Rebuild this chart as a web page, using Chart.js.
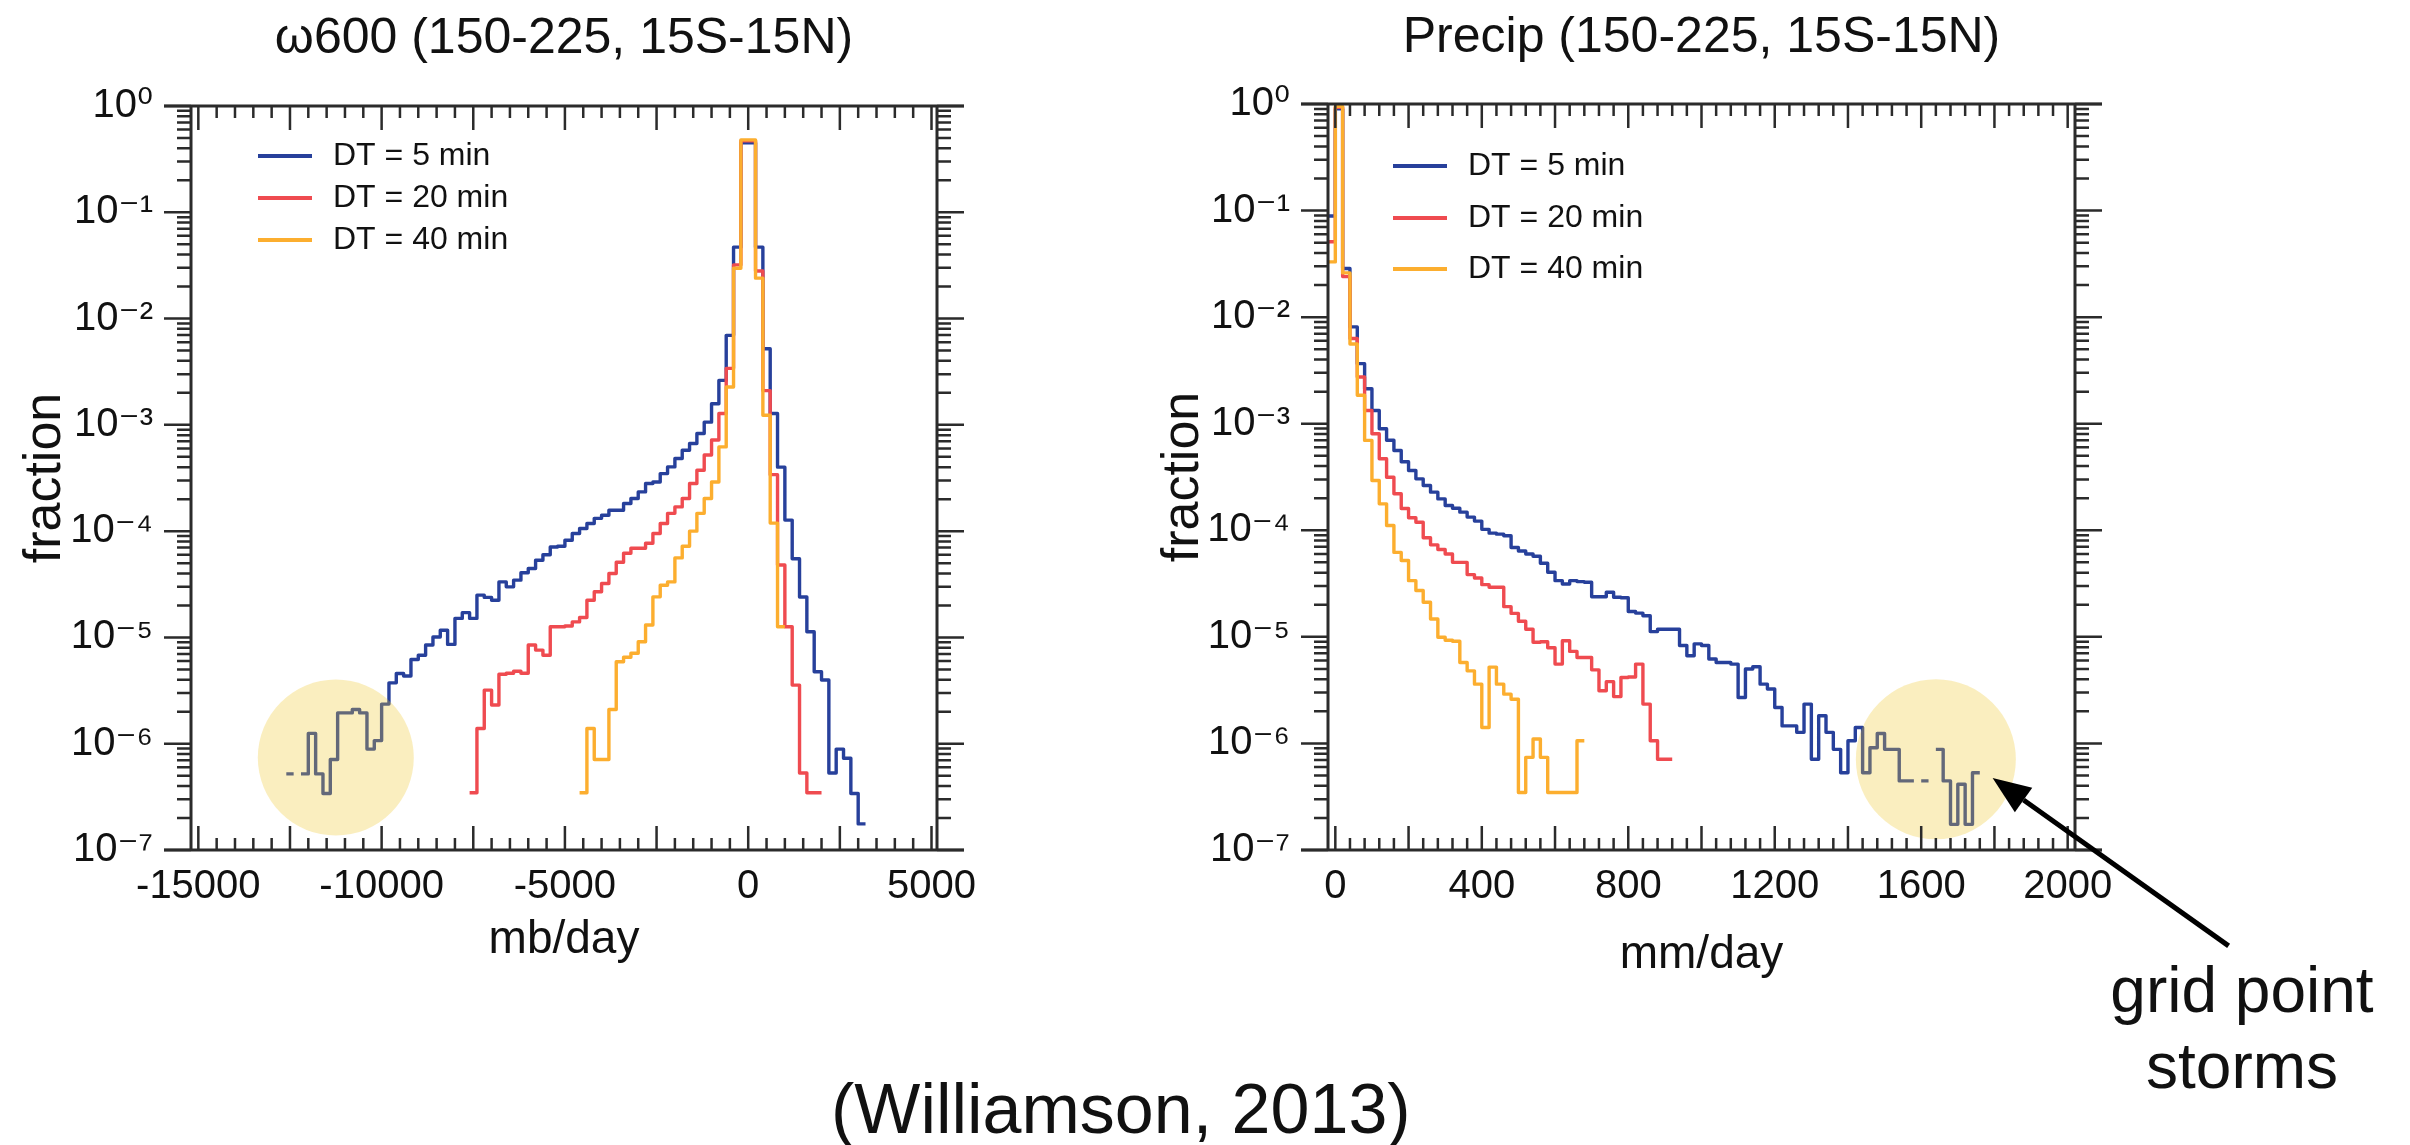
<!DOCTYPE html>
<html>
<head>
<meta charset="utf-8">
<script src="https://cdn.jsdelivr.net/npm/chart.js@4.4.1/dist/chart.umd.min.js"></script>
<style>
  html, body { margin: 0; padding: 0; background: #fff; }
  body { width: 2410px; height: 1145px; position: relative; overflow: hidden;
         font-family: "Liberation Sans", Arial, sans-serif; color: #111; }
  #omegaChart { position: absolute; left: 0; top: 0; }
  #precipChart { position: absolute; left: 1080px; top: 0; }
  .note { position: absolute; white-space: nowrap; }
  #storms { left: 2042px; top: 952px; width: 400px; text-align: center; font-size: 64px; line-height: 76px; }
  #cite { left: 831px; top: 1074px; font-size: 70px; line-height: 70px; }
</style>
</head>
<body>
<canvas id="omegaChart" width="1000" height="1000"></canvas>
<canvas id="precipChart" width="1330" height="1000"></canvas>
<div class="note" id="storms">grid point<br>storms</div>
<div class="note" id="cite">(Williamson, 2013)</div>
<script>
// ---- data (fraction per bin) ----
const seriesLabels = ['DT = 5 min', 'DT = 20 min', 'DT = 40 min'];
const seriesColors = ['#27409b', '#ef4b50', '#fcae2f'];

const fractionTicks = [1e-7, 1e-6, 1e-5, 1e-4, 1e-3, 1e-2, 1e-1, 1];
const fractionTickLabels = ['10⁻⁷', '10⁻⁶', '10⁻⁵', '10⁻⁴', '10⁻³', '10⁻²', '10⁻¹', '10⁰'];

// omega600, mb/day, 200 mb/day bins (value = left edge of first bin)
const omegaTicks = [-15000, -10000, -5000, 0, 5000];
const omegaBinWidth = 200;
const omega5Start = -12600;
const omega5 = [
  5.2e-7, null, 5.2e-7, 1.25e-6, 5.2e-7, 3.4e-7, 7.1e-7, 1.95e-6, 1.95e-6, 2.1e-6,
  1.95e-6, 8.9e-7, 1.07e-6, 2.36e-6, 3.74e-6, 4.58e-6, 4.33e-6, 6.2e-6, 6.8e-6, 8.5e-6,
  1.01e-5, 1.17e-5, 8.6e-6, 1.51e-5, 1.71e-5, 1.51e-5, 2.5e-5, 2.38e-5, 2.24e-5, 3.33e-5,
  2.99e-5, 3.46e-5, 4.06e-5, 4.45e-5, 5.33e-5, 6.0e-5, 7.1e-5, 7.2e-5, 8.2e-5, 9.5e-5,
  1.06e-4, 1.18e-4, 1.32e-4, 1.41e-4, 1.57e-4, 1.57e-4, 1.82e-4, 2.03e-4, 2.34e-4, 2.81e-4,
  2.9e-4, 3.48e-4, 4.02e-4, 4.82e-4, 5.77e-4, 6.67e-4, 8.28e-4, 1.06e-3, 1.58e-3, 2.62e-3,
  6.95e-3, 0.047, 0.45, 0.45, 0.047, 5.2e-3, 1.28e-3, 4.0e-4, 1.27e-4, 5.5e-5,
  2.4e-5, 1.13e-5, 4.75e-6, 3.97e-6, 5.3e-7, 8.9e-7, 7.3e-7, 3.4e-7, 1.76e-7
];
const omega20Start = -7600;
const omega20 = [
  3.46e-7, 1.39e-6, 3.19e-6, 2.31e-6, 4.5e-6, 4.6e-6, 4.8e-6, 4.6e-6, 8.5e-6, 7.6e-6,
  6.8e-6, 1.26e-5, 1.26e-5, 1.28e-5, 1.4e-5, 1.54e-5, 2.24e-5, 2.69e-5, 3.22e-5, 4.0e-5,
  5.1e-5, 6.2e-5, 6.9e-5, 6.9e-5, 7.7e-5, 9.5e-5, 1.18e-4, 1.47e-4, 1.69e-4, 2.03e-4,
  2.81e-4, 3.74e-4, 5.2e-4, 7.2e-4, 1.28e-3, 3.4e-3, 0.032, 0.47, 0.47, 0.028,
  2.1e-3, 3.4e-4, 4.8e-5, 1.26e-5, 3.56e-6, 5.3e-7, 3.46e-7, 3.46e-7
];
const omega40Start = -4600;
const omega40 = [
  3.46e-7, 1.39e-6, 7.1e-7, 7.1e-7, 2.1e-6, 5.9e-6, 6.5e-6, 7.1e-6, 9.1e-6, 1.31e-5,
  2.41e-5, 3.1e-5, 3.33e-5, 5.6e-5, 7.2e-5, 1.0e-4, 1.47e-4, 2.03e-4, 2.9e-4, 6.2e-4,
  2.27e-3, 0.0297, 0.48, 0.48, 0.024, 1.23e-3, 1.19e-4, 1.26e-5
];

// precip, mm/day, 20 mm/day bins
const precipTicks = [0, 400, 800, 1200, 1600, 2000];
const precipBinWidth = 20;
const precipStart = -20;
const precip5 = [
  0.089, 0.9, 0.0286, 8.1e-3, 3.66e-3, 2.13e-3, 1.33e-3, 8.97e-4, 7.0e-4, 5.6e-4,
  4.4e-4, 3.64e-4, 3.04e-4, 2.63e-4, 2.28e-4, 1.97e-4, 1.71e-4, 1.61e-4, 1.48e-4, 1.33e-4,
  1.22e-4, 1.02e-4, 9.4e-5, 9.2e-5, 8.9e-5, 6.9e-5, 6.4e-5, 6.0e-5, 5.7e-5, 4.9e-5,
  4.04e-5, 3.37e-5, 3.13e-5, 3.37e-5, 3.3e-5, 3.25e-5, 2.38e-5, 2.38e-5, 2.62e-5, 2.35e-5,
  2.33e-5, 1.73e-5, 1.67e-5, 1.58e-5, 1.12e-5, 1.18e-5, 1.18e-5, 1.18e-5, 8.3e-6, 6.65e-6,
  8.6e-6, 8.3e-6, 6.2e-6, 5.75e-6, 5.75e-6, 5.55e-6, 2.7e-6, 4.99e-6, 5.24e-6, 3.6e-6,
  3.24e-6, 2.17e-6, 1.46e-6, 1.46e-6, 1.27e-6, 2.34e-6, 7.1e-7, 1.82e-6, 1.27e-6, 8.8e-7,
  5.3e-7, 1.06e-6, 1.41e-6, 5.3e-7, 9.1e-7, 1.24e-6, 8.8e-7, 8.8e-7, 4.45e-7, 4.45e-7,
  null, 4.45e-7, null, 8.8e-7, 4.45e-7, 1.74e-7, 4.14e-7, 1.74e-7, 5.3e-7
];
const precip20 = [
  0.051, 0.93, 0.024, 6.3e-3, 2.74e-3, 1.33e-3, 8.05e-4, 4.69e-4, 3.15e-4, 2.2e-4,
  1.6e-4, 1.31e-4, 1.19e-4, 8.5e-5, 7.3e-5, 6.6e-5, 6.0e-5, 5.0e-5, 5.0e-5, 3.84e-5,
  3.57e-5, 3.09e-5, 2.92e-5, 2.92e-5, 1.92e-5, 1.66e-5, 1.4e-5, 1.18e-5, 8.9e-6, 9.0e-6,
  7.9e-6, 5.55e-6, 9.2e-6, 7.3e-6, 6.4e-6, 6.4e-6, 4.9e-6, 3.12e-6, 3.8e-6, 2.75e-6,
  4.16e-6, 4.2e-6, 5.55e-6, 2.34e-6, 1.06e-6, 7.1e-7, 7.1e-7
];
const precip40 = [
  0.033, 0.95, 0.026, 5.6e-3, 1.85e-3, 6.97e-4, 2.93e-4, 1.77e-4, 1.11e-4, 6.2e-5,
  5.2e-5, 3.37e-5, 2.72e-5, 2.11e-5, 1.47e-5, 9.9e-6, 9.3e-6, 9.1e-6, 5.75e-6, 4.8e-6,
  3.6e-6, 1.41e-6, 5.2e-6, 3.6e-6, 2.9e-6, 2.6e-6, 3.46e-7, 7.4e-7, 1.1e-6, 7.4e-7,
  3.46e-7, 3.46e-7, 3.46e-7, 3.46e-7, 1.06e-6
];

// ---- helpers ----
const fontFamily = '"Liberation Sans", "DejaVu Sans", Arial, sans-serif';
const ink = '#111';

// step outline: each bin becomes a flat segment, empty bins break the line
function histogram(start, width, values) {
  const pts = [];
  values.forEach((v, i) => {
    const left = start + i * width;
    if (v === null) {
      pts.push({ x: left, y: null });
      return;
    }
    pts.push({ x: left, y: v }, { x: left + width, y: v });
  });
  return pts;
}

function dataset(i, points) {
  return {
    label: seriesLabels[i],
    data: points,
    borderColor: seriesColors[i],
    borderWidth: 3.4,
    pointRadius: 0,
    fill: false,
    tension: 0,
    borderJoinStyle: 'round',
    order: 3 - i   // orange drawn on top, like the original
  };
}

// frame with log ticks outward on y, linear ticks inward on x
const frameTicks = {
  id: 'frameTicks',
  afterDraw(chart, args, opts) {
    const { ctx, chartArea: a, scales: { x, y } } = chart;
    ctx.save();
    ctx.strokeStyle = opts.color;
    ctx.lineWidth = opts.tickWidth;
    ctx.beginPath();
    for (let e = -7; e <= 0; e++) {
      for (let k = 1; k <= 9; k++) {
        const v = k * Math.pow(10, e);
        if (v > 1.000001) break;
        const py = y.getPixelForValue(v);
        const len = k === 1 ? opts.yMajor : opts.yMinor;
        ctx.moveTo(a.left - len, py); ctx.lineTo(a.left, py);
        ctx.moveTo(a.right, py); ctx.lineTo(a.right + len, py);
      }
    }
    const first = Math.ceil(x.min / opts.xMinorStep) * opts.xMinorStep;
    for (let v = first; v <= x.max; v += opts.xMinorStep) {
      const px = x.getPixelForValue(v);
      const len = v % opts.xMajorStep === 0 ? opts.xMajor : opts.xMinor;
      ctx.moveTo(px, a.top); ctx.lineTo(px, a.top + len);
      ctx.moveTo(px, a.bottom); ctx.lineTo(px, a.bottom - len);
    }
    ctx.stroke();
    ctx.lineWidth = opts.frameWidth;
    ctx.beginPath();
    ctx.moveTo(a.left - opts.yMajor, a.top); ctx.lineTo(a.right + opts.yMajor, a.top);
    ctx.moveTo(a.left - opts.yMajor, a.bottom); ctx.lineTo(a.right + opts.yMajor, a.bottom);
    ctx.moveTo(a.left, a.top); ctx.lineTo(a.left, a.bottom);
    ctx.moveTo(a.right, a.top); ctx.lineTo(a.right, a.bottom);
    ctx.stroke();
    ctx.restore();
  }
};

// legend drawn inside the plot, short line + label
const lineLegend = {
  id: 'lineLegend',
  afterDraw(chart, args, opts) {
    const { ctx, chartArea: a } = chart;
    ctx.save();
    ctx.font = opts.fontSize + 'px ' + fontFamily;
    ctx.textBaseline = 'middle';
    chart.data.datasets.forEach((ds, i) => {
      const yy = a.top + opts.rows[i];
      const x0 = a.left + opts.x;
      ctx.strokeStyle = ds.borderColor;
      ctx.lineWidth = opts.lineWidth;
      ctx.beginPath();
      ctx.moveTo(x0, yy);
      ctx.lineTo(x0 + opts.length, yy);
      ctx.stroke();
      ctx.fillStyle = ink;
      ctx.fillText(ds.label, x0 + opts.length + opts.gap, yy);
    });
    ctx.restore();
  }
};

// translucent highlight over the grid point storms
const stormCircle = {
  id: 'stormCircle',
  afterDatasetsDraw(chart, args, opts) {
    const { ctx, scales: { x, y } } = chart;
    ctx.save();
    ctx.fillStyle = opts.color;
    ctx.beginPath();
    ctx.arc(x.getPixelForValue(opts.center[0]), y.getPixelForValue(opts.center[1]), opts.radius, 0, Math.PI * 2);
    ctx.fill();
    ctx.restore();
  }
};

const stormArrow = {
  id: 'stormArrow',
  afterDraw(chart, args, opts) {
    if (!opts.tip) return;
    const { ctx, scales: { x, y } } = chart;
    const tx = x.getPixelForValue(opts.tip[0]);
    const ty = y.getPixelForValue(opts.tip[1]);
    const sx = tx + opts.offset[0], sy = ty + opts.offset[1];
    const ang = Math.atan2(ty - sy, tx - sx);
    const bx = tx - opts.head * Math.cos(ang), by = ty - opts.head * Math.sin(ang);
    ctx.save();
    ctx.strokeStyle = '#000';
    ctx.fillStyle = '#000';
    ctx.lineWidth = opts.width;
    ctx.beginPath();
    ctx.moveTo(sx, sy);
    ctx.lineTo(bx, by);
    ctx.stroke();
    ctx.beginPath();
    ctx.moveTo(tx, ty);
    ctx.lineTo(bx + opts.halfWidth * Math.sin(ang), by - opts.halfWidth * Math.cos(ang));
    ctx.lineTo(bx - opts.halfWidth * Math.sin(ang), by + opts.halfWidth * Math.cos(ang));
    ctx.closePath();
    ctx.fill();
    ctx.restore();
  }
};

function panelOptions(p) {
  return {
    responsive: false,
    animation: false,
    devicePixelRatio: 1,
    layout: { padding: { left: 0, right: p.padRight, top: 0, bottom: 0 } },
    scales: {
      x: {
        type: 'linear',
        min: p.xMin,
        max: p.xMax,
        grid: { display: false, drawTicks: false },
        border: { display: false },
        afterBuildTicks: s => { s.ticks = p.xTicks.map(v => ({ value: v })); },
        afterFit: s => { s.height = 150; },
        ticks: {
          padding: 13, autoSkip: false, maxRotation: 0, color: ink,
          font: { family: fontFamily, size: 40 },
          callback: v => String(v)
        },
        title: {
          display: true, text: p.xTitle, color: ink,
          font: { family: fontFamily, size: 46 },
          padding: { top: 0, bottom: p.xTitlePad }
        }
      },
      y: {
        type: 'logarithmic',
        min: 1e-7,
        max: 1,
        grid: { display: false, drawTicks: false },
        border: { display: false },
        afterBuildTicks: s => { s.ticks = fractionTicks.map(v => ({ value: v })); },
        afterFit: s => { s.width = p.yAxisWidth; },
        ticks: {
          padding: 38, autoSkip: false, color: ink,
          font: { family: fontFamily, size: 40 },
          callback: v => fractionTickLabels[fractionTicks.indexOf(v)]
        },
        title: {
          display: true, text: 'fraction', color: ink,
          font: { family: fontFamily, size: 52 },
          padding: { top: p.yTitlePad, bottom: 0 }
        }
      }
    },
    plugins: {
      legend: { display: false },
      tooltip: { enabled: false },
      title: {
        display: true, text: p.title, fullSize: false, color: ink,
        font: { family: fontFamily, size: 50, weight: 'normal' },
        padding: { top: p.titlePadTop, bottom: p.titlePadBottom }
      },
      frameTicks: {
        color: '#2b2b2b', tickWidth: 2.5, frameWidth: 3,
        yMajor: 27, yMinor: 14, xMajor: 24, xMinor: 12,
        xMajorStep: p.xMajorStep, xMinorStep: p.xMinorStep
      },
      lineLegend: { x: p.legendX, rows: p.legendRows, length: 54, gap: 21, lineWidth: 4, fontSize: 32 },
      stormCircle: { center: p.stormCenter, radius: p.stormRadius, color: 'rgba(239, 199, 42, 0.3)' },
      stormArrow: p.arrow || {}
    }
  };
}

new Chart(document.getElementById('omegaChart'), {
  type: 'line',
  data: {
    datasets: [
      dataset(0, histogram(omega5Start, omegaBinWidth, omega5)),
      dataset(1, histogram(omega20Start, omegaBinWidth, omega20)),
      dataset(2, histogram(omega40Start, omegaBinWidth, omega40))
    ]
  },
  options: panelOptions({
    title: 'ω600 (150-225, 15S-15N)',
    xTitle: 'mb/day',
    xMin: -15200, xMax: 5150, xTicks: omegaTicks,
    xMajorStep: 2500, xMinorStep: 500,
    padRight: 63, yAxisWidth: 191,
    titlePadTop: 9, titlePadBottom: 37,
    xTitlePad: 32, yTitlePad: 14,
    legendX: 67, legendRows: [50, 92, 134],
    stormCenter: [-11250, 7.4e-7], stormRadius: 78
  }),
  plugins: [frameTicks, stormCircle, lineLegend, stormArrow]
});

new Chart(document.getElementById('precipChart'), {
  type: 'line',
  data: {
    datasets: [
      dataset(0, histogram(precipStart, precipBinWidth, precip5)),
      dataset(1, histogram(precipStart, precipBinWidth, precip20)),
      dataset(2, histogram(precipStart, precipBinWidth, precip40))
    ]
  },
  options: panelOptions({
    title: 'Precip (150-225, 15S-15N)',
    xTitle: 'mm/day',
    xMin: -20, xMax: 2020, xTicks: precipTicks,
    xMajorStep: 200, xMinorStep: 40,
    padRight: 335, yAxisWidth: 248,
    titlePadTop: 8, titlePadBottom: 36,
    xTitlePad: 17, yTitlePad: 72,
    legendX: 65, legendRows: [62, 114, 165],
    stormCenter: [1640, 7.1e-7], stormRadius: 80,
    arrow: { tip: [1795, 4.75e-7], offset: [236, 168], width: 5, head: 38, halfWidth: 15 }
  }),
  plugins: [frameTicks, stormCircle, lineLegend, stormArrow]
});
</script>
</body>
</html>
